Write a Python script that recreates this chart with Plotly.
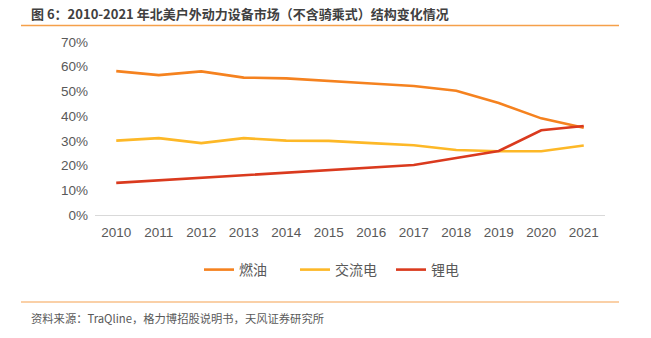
import plotly.graph_objects as go

years = ["2010", "2011", "2012", "2013", "2014", "2015", "2016", "2017", "2018", "2019", "2020", "2021"]
fuel = [0.582, 0.566, 0.581, 0.556, 0.553, 0.541, 0.532, 0.522, 0.503, 0.453, 0.391, 0.353]
ac = [0.301, 0.311, 0.291, 0.311, 0.301, 0.300, 0.291, 0.282, 0.263, 0.258, 0.258, 0.281]
li = [0.130, 0.140, 0.150, 0.161, 0.172, 0.182, 0.192, 0.202, 0.231, 0.259, 0.343, 0.360]
names = ["燃油", "交流电", "锂电"]
colors = ["#F5821F", "#FDB827", "#DA3A1E"]
title = "图 6：2010-2021 年北美户外动力设备市场（不含骑乘式）结构变化情况"
source = "资料来源：TraQline，格力博招股说明书，天风证券研究所"

fig = go.Figure()
for name, vals, c in zip(names, [fuel, ac, li], colors):
    fig.add_trace(go.Scatter(x=years, y=vals, name=name, mode="lines",
                             line=dict(color=c, width=2.6)))

W, H = 651, 338
l, r, t, b = 95, 46, 42, 123


def px(xpix):
    return (xpix - l) / (W - l - r)


def py(ypix):
    return (H - b - ypix) / (H - t - b)


fig.update_layout(
    width=W, height=H,
    margin=dict(l=l, r=r, t=t, b=b),
    paper_bgcolor="white", plot_bgcolor="white",
    font=dict(family="Liberation Sans, Arial, Noto Sans CJK SC", color="#595959", size=13),
    xaxis=dict(type="category", range=[-0.5, len(years) - 0.5], showgrid=False, showline=True,
               linecolor="#D9D9D9", linewidth=1,
               ticks="", tickfont=dict(size=13.5, color="#595959"), ticklabelstandoff=5),
    yaxis=dict(range=[0, 0.7], dtick=0.1, tickformat=".0%", showgrid=False, zeroline=False,
               showline=False, tickfont=dict(size=13.5, color="#595959"), ticklabelstandoff=6),
    showlegend=True,
    legend=dict(orientation="h", x=px(199), xanchor="left",
                y=py(270), yanchor="middle", entrywidth=51, entrywidthmode="pixels",
                font=dict(family="Noto Sans CJK SC", size=14, color="#595959"),
                bgcolor="rgba(0,0,0,0)"),
    shapes=[
        dict(type="line", xref="paper", yref="paper",
             x0=px(21), x1=px(619), y0=py(25.5), y1=py(25.5),
             line=dict(color="#F5A04A", width=1.5)),
        dict(type="line", xref="paper", yref="paper",
             x0=px(21), x1=px(619), y0=py(302), y1=py(302),
             line=dict(color="#F8C08A", width=1.5)),
    ],
)

fig.add_annotation(text="<b>" + title + "</b>", xref="paper", yref="paper",
                   x=px(29), y=py(13), xanchor="left", yanchor="middle",
                   showarrow=False, font=dict(family="Noto Sans CJK SC", size=13, color="#404040"))
fig.add_annotation(text=source, xref="paper", yref="paper",
                   x=px(29), y=py(318), xanchor="left", yanchor="middle",
                   showarrow=False, font=dict(family="Noto Sans CJK SC", size=11.3, color="#595959"))

fig.write_html("out.html")
